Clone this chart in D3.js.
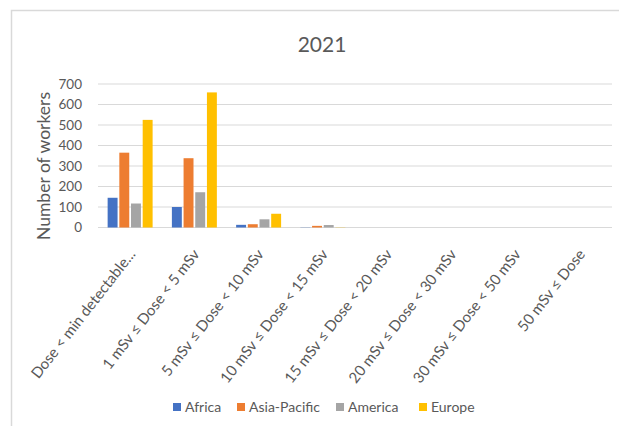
<!DOCTYPE html>
<html>
<head>
<meta charset="utf-8">
<script src="https://cdn.jsdelivr.net/npm/d3@7"></script>
<style>
  html, body { margin: 0; padding: 0; background: #fff; }
  svg { display: block; font-family: Lato, "Open Sans", sans-serif; }
</style>
</head>
<body>
<svg id="chart" width="619" height="426"></svg>
<script>
// Dose bands (x categories)
const categories = [
  "Dose < min detectable...",
  "1 mSv ≤ Dose < 5 mSv",
  "5 mSv ≤ Dose < 10 mSv",
  "10 mSv ≤ Dose < 15 mSv",
  "15 mSv ≤ Dose < 20 mSv",
  "20 mSv ≤ Dose < 30 mSv",
  "30 mSv ≤ Dose < 50 mSv",
  "50 mSv ≤ Dose"
];
// Regions (series)
const seriesNames = ["Africa", "Asia-Pacific", "America", "Europe"];
const seriesColors = ["#4472C4", "#ED7D31", "#A5A5A5", "#FFC000"];
// Number of workers per dose band, one array per region
const africa      = [145, 100, 13, 1, 0, 0, 0, 0];
const asiaPacific = [365, 338, 16, 8, 0, 0, 0, 0];
const america     = [117, 172, 40, 12, 0, 0, 0, 0];
const europe      = [525, 659, 67, 1, 0, 0, 0, 0];
const seriesValues = [africa, asiaPacific, america, europe];
const yTicks = [0, 100, 200, 300, 400, 500, 600, 700];
const title = "2021";
const yTitle = "Number of workers";

const svg = d3.select("#chart");
const textColor = "#595959";
const gridColor = "#D9D9D9";

// chart frame (left and top edges visible)
svg.append("path")
  .attr("d", "M11.5,426 V10.5 H619")
  .attr("fill", "none")
  .attr("stroke", gridColor)
  .attr("stroke-width", 1.5);

const plot = { left: 98, right: 612, top: 84, bottom: 227.5 };

const x = d3.scaleBand()
  .domain(categories)
  .range([plot.left, plot.right])
  .paddingInner(0.3)
  .paddingOuter(0.15);

const xInner = d3.scaleBand()
  .domain(seriesNames)
  .range([0, x.bandwidth()])
  .paddingInner(0.15);

const y = d3.scaleLinear()
  .domain([0, 700])
  .range([plot.bottom, plot.top]);

// gridlines
svg.append("g")
  .selectAll("line")
  .data(yTicks)
  .join("line")
  .attr("x1", plot.left)
  .attr("x2", plot.right)
  .attr("y1", d => y(d))
  .attr("y2", d => y(d))
  .attr("stroke", gridColor)
  .attr("stroke-width", 1.2);

// y axis tick labels
const yAxis = svg.append("g")
  .attr("transform", `translate(${plot.left - 16},0)`)
  .call(d3.axisLeft(y).tickValues(yTicks).tickSize(0).tickPadding(0));
yAxis.select(".domain").remove();
yAxis.selectAll("text")
  .attr("fill", textColor)
  .style("font-size", "13.5px")
  .style("font-family", "Lato, sans-serif");

// bars
const groups = svg.append("g")
  .selectAll("g")
  .data(seriesNames.map((name, i) => ({ name, color: seriesColors[i], values: seriesValues[i] })))
  .join("g")
  .attr("fill", d => d.color);

groups.selectAll("rect")
  .data(d => d.values.map((v, j) => ({ name: d.name, cat: categories[j], v })))
  .join("rect")
  .attr("x", d => x(d.cat) + xInner(d.name))
  .attr("width", xInner.bandwidth())
  .attr("y", d => y(d.v))
  .attr("height", d => y(0) - y(d.v));

// x axis category labels, rotated
const xAxis = svg.append("g")
  .attr("transform", `translate(0,${plot.bottom})`)
  .call(d3.axisBottom(x).tickSize(0).tickPadding(0));
xAxis.select(".domain").remove();
xAxis.selectAll(".tick text")
  .attr("fill", textColor)
  .style("font-size", "15px")
  .style("font-family", "Lato, sans-serif")
  .attr("text-anchor", "end")
  .attr("dy", 0)
  .attr("y", 0)
  .attr("transform", "translate(6,27) rotate(-52)");

// title
svg.append("text")
  .attr("x", 322)
  .attr("y", 52)
  .attr("text-anchor", "middle")
  .attr("fill", textColor)
  .style("font-size", "21px")
  .text(title);

// y axis title
svg.append("text")
  .attr("transform", `translate(50,166) rotate(-90)`)
  .attr("text-anchor", "middle")
  .attr("fill", textColor)
  .style("font-size", "17.5px")
  .text(yTitle);

// legend
const legendX = [173, 237, 336, 419];
const legend = svg.append("g")
  .selectAll("g")
  .data(seriesNames)
  .join("g")
  .attr("transform", (d, i) => `translate(${legendX[i]},403)`);
legend.append("rect")
  .attr("width", 8)
  .attr("height", 8)
  .attr("fill", (d, i) => seriesColors[i]);
legend.append("text")
  .attr("x", 12)
  .attr("y", 9)
  .attr("fill", textColor)
  .style("font-size", "14px")
  .text(d => d);
</script>
</body>
</html>
